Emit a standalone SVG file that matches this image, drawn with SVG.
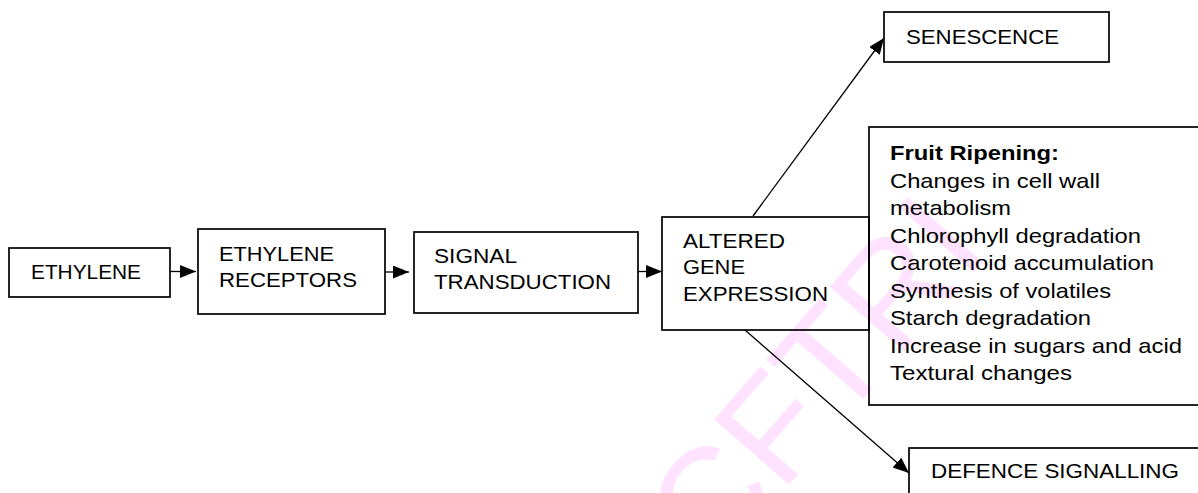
<svg xmlns="http://www.w3.org/2000/svg" width="1198" height="493" viewBox="0 0 1198 493">
<style>
.box{fill:none;stroke:#000;stroke-width:1.7}
.t{font-family:"Liberation Sans",Arial,sans-serif;font-size:21px;fill:#000}
.b{font-weight:bold}
.c{fill:none;stroke:#000;stroke-width:1.3}
.wm{font-family:"Liberation Sans",Arial,sans-serif;font-size:144px;fill:#ffe2ff}
</style>
<defs>
<marker id="ah" markerUnits="userSpaceOnUse" markerWidth="17" markerHeight="14" refX="16" refY="6.5" orient="auto">
<path d="M0,0 L16,6.5 L0,13 z" fill="#000"/>
</marker>
</defs>
<rect width="1198" height="493" fill="#fff"/>
<text class="wm" transform="translate(713,572) rotate(-49)">CFTRI</text>
<g id="connectors">
<path class="c" d="M170,271.5 H196" marker-end="url(#ah)"/>
<path class="c" d="M385,272 H409" marker-end="url(#ah)"/>
<path class="c" d="M638,271.5 H662" marker-end="url(#ah)"/>
<path class="c" d="M753,216 L884,38" marker-end="url(#ah)"/>
<path class="c" d="M745,330 L909,473" marker-end="url(#ah)"/>
</g>
<g id="ethylene">
<rect class="box" x="9" y="248" width="161" height="49"/>
<text class="t" x="31" y="279" textLength="110" lengthAdjust="spacingAndGlyphs">ETHYLENE</text>
</g>
<g id="receptors">
<rect class="box" x="198" y="229" width="187" height="85"/>
<text class="t" x="219" y="261" textLength="115" lengthAdjust="spacingAndGlyphs">ETHYLENE</text>
<text class="t" x="219" y="287" textLength="138" lengthAdjust="spacingAndGlyphs">RECEPTORS</text>
</g>
<g id="signal">
<rect class="box" x="414" y="232" width="224" height="81"/>
<text class="t" x="434" y="263" textLength="83" lengthAdjust="spacingAndGlyphs">SIGNAL</text>
<text class="t" x="434" y="288.5" textLength="177" lengthAdjust="spacingAndGlyphs">TRANSDUCTION</text>
</g>
<g id="altered">
<rect class="box" x="662" y="217" width="207" height="113"/>
<text class="t" x="683" y="247.7" textLength="102" lengthAdjust="spacingAndGlyphs">ALTERED</text>
<text class="t" x="683" y="274.3" textLength="62" lengthAdjust="spacingAndGlyphs">GENE</text>
<text class="t" x="683" y="301" textLength="145" lengthAdjust="spacingAndGlyphs">EXPRESSION</text>
</g>
<g id="senescence">
<rect class="box" x="884" y="12" width="225" height="50"/>
<text class="t" x="906" y="44" textLength="153" lengthAdjust="spacingAndGlyphs">SENESCENCE</text>
</g>
<g id="fruit">
<rect class="box" x="869" y="127" width="340" height="278"/>
<text class="t b" x="890" y="160" textLength="169" lengthAdjust="spacingAndGlyphs">Fruit Ripening:</text>
<text class="t" x="890" y="187.5" textLength="210" lengthAdjust="spacingAndGlyphs">Changes in cell wall</text>
<text class="t" x="890" y="215" textLength="121" lengthAdjust="spacingAndGlyphs">metabolism</text>
<text class="t" x="890" y="242.5" textLength="251" lengthAdjust="spacingAndGlyphs">Chlorophyll degradation</text>
<text class="t" x="890" y="270" textLength="264" lengthAdjust="spacingAndGlyphs">Carotenoid accumulation</text>
<text class="t" x="890" y="297.5" textLength="221" lengthAdjust="spacingAndGlyphs">Synthesis of volatiles</text>
<text class="t" x="890" y="325" textLength="201" lengthAdjust="spacingAndGlyphs">Starch degradation</text>
<text class="t" x="890" y="352.5" textLength="292" lengthAdjust="spacingAndGlyphs">Increase in sugars and acid</text>
<text class="t" x="890" y="380" textLength="182" lengthAdjust="spacingAndGlyphs">Textural changes</text>
</g>
<g id="defence">
<rect class="box" x="909" y="448" width="300" height="60"/>
<text class="t" x="931" y="478.3" textLength="248" lengthAdjust="spacingAndGlyphs">DEFENCE SIGNALLING</text>
</g>
</svg>
